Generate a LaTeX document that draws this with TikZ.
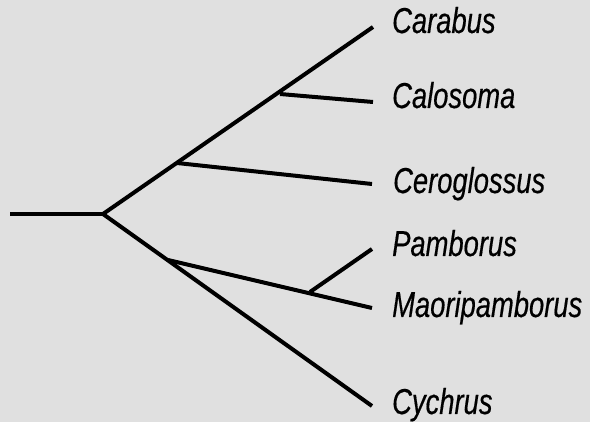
\documentclass[tikz,border=0pt]{standalone}
\usepackage{fontspec}
\setmainfont{Liberation Sans}[ItalicFeatures={FakeStretch=0.76,FakeBold=0.4}]
\begin{document}
\begin{tikzpicture}[x=1pt,y=-1pt,
  branch/.style={line width=4pt,line cap=butt,line join=round},
  taxon/.style={anchor=base west,inner sep=0pt,font=\fontsize{36}{36}\selectfont\itshape}]
\fill[fill={rgb,255:red,224;green,224;blue,224}] (0,0) rectangle (590,422);
\useasboundingbox (0,0) rectangle (590,422);
% internal points
\coordinate (r0) at (10,214);
\coordinate (n1) at (103,214);
\coordinate (n2) at (177,163);
\coordinate (n3) at (280,94);
\coordinate (n4) at (168,260);
\coordinate (n5) at (310,292);
% tips
\coordinate (tCa) at (373,27);
\coordinate (tCl) at (373,102);
\coordinate (tCe) at (372,184);
\coordinate (tPa) at (372,249);
\coordinate (tMa) at (372,308);
\coordinate (tCy) at (372,406);
% branches
\draw[branch] (r0) -- (n1);
\draw[branch] (n1) -- (tCa);
\draw[branch] (n3) -- (tCl);
\draw[branch] (n2) -- (tCe);
\draw[branch] (n1) -- (tCy);
\draw[branch] (n4) -- (tMa);
\draw[branch] (n5) -- (tPa);
% labels
\node[taxon] (lCa) at (392,33) {Carabus};
\node[taxon] (lCl) at (392,108) {Calosoma};
\node[taxon] (lCe) at (393,193) {Ceroglossus};
\node[taxon] (lPa) at (392,256) {Pamborus};
\node[taxon] (lMa) at (392,317) {Maoripamborus};
\node[taxon] (lCy) at (392,414) {Cychrus};
\end{tikzpicture}
\end{document}
